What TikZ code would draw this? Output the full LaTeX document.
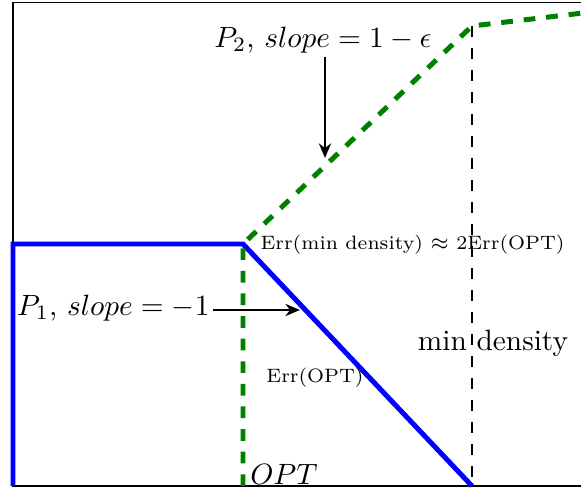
\documentclass[tikz,border=0pt]{standalone}
\usetikzlibrary{arrows.meta}
\begin{document}
\begin{tikzpicture}[x=0.3407pt, y=-0.3407pt,
  frameline/.style={line width=0.4pt, black},
  bluepath/.style={line width=1.7pt, blue},
  greenpath/.style={line width=1.7pt, green!50!black, dash pattern=on 4pt off 3.7pt},
  blackdash/.style={line width=0.65pt, black, dash pattern=on 3.75pt off 3.75pt},
  arr/.style={line width=0.4pt, -{Stealth[length=5pt, width=4.2pt, inset=1.6pt]}},
  lab/.style={inner sep=1pt},
  smalllab/.style={inner sep=1pt, font=\fontsize{6.6}{8}\selectfont}]
\useasboundingbox (0,0) rectangle (581,488);
% frame
\coordinate (ftl) at (13,2.5);
\coordinate (fbl) at (13,486);
\coordinate (ftr) at (620,2.5);
\coordinate (fbr) at (620,486);
\draw[frameline] (ftr) -- (ftl) -- (fbl) -- (fbr);
% key points
\coordinate (b0) at (13,486);
\coordinate (b1) at (13,244);
\coordinate (k) at (243,244);
\coordinate (m) at (472,486);
\coordinate (g0) at (243,486);
\coordinate (t) at (472,26);
\coordinate (g3) at (600,11);
% black dashed
\draw[blackdash] (t) -- (m);
% blue
\draw[bluepath, line join=miter] (b0) -- (b1) -- (k) -- (m);
% green
\draw[greenpath] (g0) -- (k) -- (t) -- (g3);
% labels
\node[lab] (p2) at (323,40) {$P_2$, $slope = 1-\epsilon$};
\coordinate (a2) at (325,158);
\draw[arr] (p2.south -| a2) -- (a2);
\node[lab, anchor=east] (p1) at (213,308) {$P_1$, $slope = -1$};
\coordinate (a1) at (300,310);
\draw[arr] (p1.east |- a1) -- (a1);
\node[smalllab, anchor=west] (errmin) at (257,245) {Err(min density) $\approx$ 2Err(OPT)};
\node[lab] (mind) at (493,343) {min density};
\node[smalllab] (erropt) at (315,378) {Err(OPT)};
\node[lab] (opt) at (284,474) {$OPT$};
\end{tikzpicture}
\end{document}
